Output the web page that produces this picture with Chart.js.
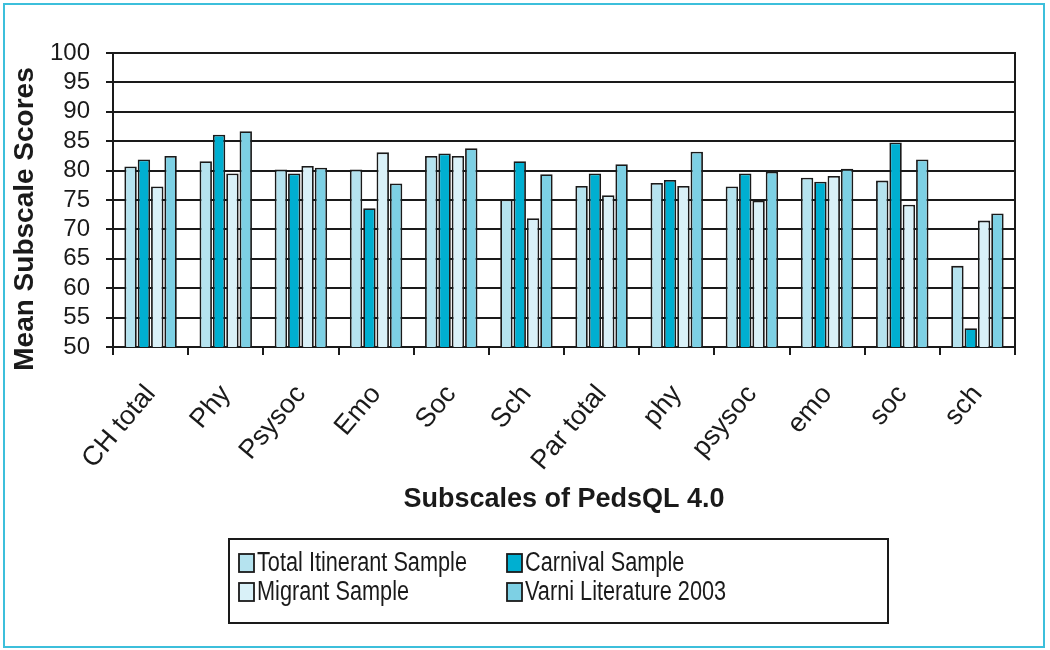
<!DOCTYPE html>
<html>
<head>
<meta charset="utf-8">
<script src="https://cdn.jsdelivr.net/npm/chart.js@4"></script>
<style>
  html, body { margin: 0; padding: 0; background: #fff; }
  #wrap { position: relative; width: 1050px; height: 650px; }
  #wrap canvas { position: absolute; left: 0; top: 0; }
  #frame { position: absolute; left: 3px; top: 3px; width: 1038px; height: 641px; border: 2px solid #3cbfdb; }
</style>
</head>
<body>
<div id="wrap">
  <canvas id="chart" width="1050" height="650"></canvas>
  <div id="frame"></div>
</div>
<script>
// data
const categories = ["CH total", "Phy", "Psysoc", "Emo", "Soc", "Sch", "Par total", "phy", "psysoc", "emo", "soc", "sch"];
const totalItinerant = [80.7, 81.6, 80.2, 80.2, 82.5, 75.1, 77.4, 77.9, 77.3, 78.8, 78.3, 63.8];
const carnival = [81.9, 86.1, 79.5, 73.6, 82.9, 81.6, 79.5, 78.4, 79.5, 78.1, 84.8, 53.2];
const migrant = [77.3, 79.5, 80.8, 83.1, 82.5, 71.9, 75.8, 77.4, 74.9, 79.1, 74.2, 71.5];
const varni = [82.5, 86.7, 80.5, 77.8, 83.8, 79.4, 81.1, 83.2, 79.8, 80.3, 81.9, 72.7];
const seriesNames = ["Total Itinerant Sample", "Carnival Sample", "Migrant Sample", "Varni Literature 2003"];
const seriesColors = ["#b5e3ef", "#00afd1", "#d9f1f8", "#7dd0e4"];
const yMin = 50, yMax = 100, yStep = 5;
const xTitle = "Subscales of PedsQL 4.0";
const yTitle = "Mean Subscale Scores";

const ink = "#1a1a1a";
const sans = '"Liberation Sans", Arial, sans-serif';

// legend, y title and right frame line
const decor = {
  id: "decor",
  afterDraw(chart) {
    const ctx = chart.ctx;
    const area = chart.chartArea;
    ctx.save();

    ctx.strokeStyle = ink;
    ctx.lineWidth = 2;
    ctx.beginPath();
    ctx.moveTo(area.right, area.top - 1);
    ctx.lineTo(area.right, area.bottom);
    ctx.stroke();

    ctx.save();
    ctx.translate(25, 219);
    ctx.rotate(-Math.PI / 2);
    ctx.font = "bold 28px " + sans;
    ctx.fillStyle = ink;
    ctx.textAlign = "center";
    ctx.textBaseline = "middle";
    ctx.fillText(yTitle, 0, 0);
    ctx.restore();

    // legend box
    ctx.strokeStyle = ink;
    ctx.lineWidth = 2;
    ctx.strokeRect(229, 539, 659, 84);

    const cols = [239, 507];
    const rows = [563, 592];
    ctx.font = '27px "Liberation Sans Narrow", ' + sans;
    ctx.textBaseline = "middle";
    ctx.textAlign = "left";
    const want = 210;
    const got = ctx.measureText(seriesNames[0]).width;
    const sx = want / got;
    chart.data.datasets.forEach((ds, i) => {
      const x = cols[i % 2];
      const y = rows[Math.floor(i / 2)];
      ctx.fillStyle = ds.backgroundColor;
      ctx.fillRect(x, y - 9, 15, 18);
      ctx.lineWidth = 1.8;
      ctx.strokeStyle = ink;
      ctx.strokeRect(x, y - 9, 15, 18);
      ctx.save();
      ctx.translate(x + 18, y + 1);
      ctx.scale(sx, 1);
      ctx.fillStyle = ink;
      ctx.fillText(ds.label, 0, 0);
      ctx.restore();
    });
    ctx.restore();
  }
};

const values = [totalItinerant, carnival, migrant, varni];

new Chart(document.getElementById("chart"), {
  type: "bar",
  data: {
    labels: categories,
    datasets: values.map((v, i) => ({
      label: seriesNames[i],
      data: v,
      backgroundColor: seriesColors[i],
      borderColor: ink,
      borderWidth: 1.8,
      borderSkipped: false,
      categoryPercentage: 0.71,
      barPercentage: 0.93
    }))
  },
  options: {
    responsive: false,
    animation: false,
    layout: { padding: { top: 53, right: 35, bottom: 0, left: 0 } },
    plugins: {
      legend: { display: false },
      tooltip: { enabled: false }
    },
    scales: {
      x: {
        grid: { offset: true, drawOnChartArea: false, drawTicks: true, tickLength: 8, color: ink, lineWidth: 2 },
        border: { display: true, color: ink, width: 2 },
        ticks: {
          autoSkip: false,
          maxRotation: 50,
          minRotation: 50,
          padding: 24,
          color: ink,
          font: { family: sans, size: 27 }
        },
        title: {
          display: true,
          text: xTitle,
          color: ink,
          font: { family: sans, size: 27, weight: "bold" },
          padding: { top: 0, bottom: 134 }
        },
        afterFit(scale) { scale.height = 303; }
      },
      y: {
        min: yMin,
        max: yMax,
        ticks: { stepSize: yStep, autoSkip: false, padding: 16, color: ink, font: { family: sans, size: 24 } },
        grid: { color: ink, lineWidth: 2, tickLength: 7 },
        border: { display: true, color: ink, width: 2 },
        afterFit(scale) { scale.width = 113; }
      }
    }
  },
  plugins: [decor]
});
</script>
</body>
</html>
